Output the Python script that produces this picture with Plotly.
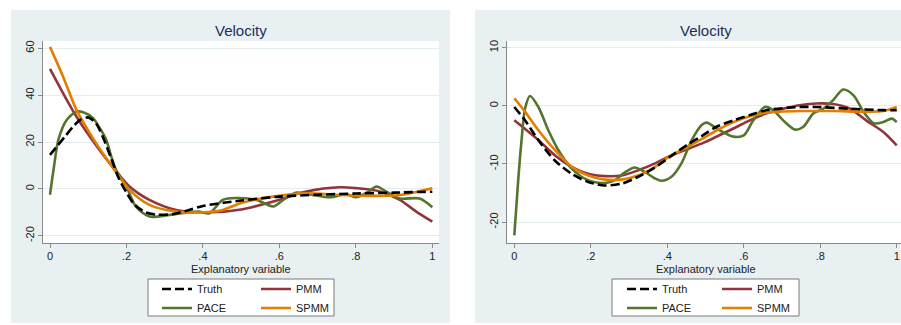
import plotly.graph_objects as go

# ---------------- data ----------------
series_names = ["Truth", "PMM", "PACE", "SPMM"]
panel_titles = ["Velocity", "Velocity"]
x_title = "Explanatory variable"

x_tickvals = [0, 0.2, 0.4, 0.6, 0.8, 1.0]
x_ticktext = ["0", ".2", ".4", ".6", ".8", "1"]
left_y_tickvals = [-20, 0, 20, 40, 60]
left_y_ticktext = ["-20", "0", "20", "40", "60"]
right_y_tickvals = [-20, -10, 0, 10]
right_y_ticktext = ["-20", "-10", "0", "10"]

# Left panel
L_truth_x = [0, 0.02, 0.04, 0.06, 0.08, 0.1, 0.12, 0.14, 0.16, 0.18, 0.2, 0.22, 0.25, 0.28, 0.32, 0.36, 0.4, 0.5, 0.6, 0.7, 0.8, 0.9, 1.0]
L_truth_y = [14.5, 18.5, 22.5, 26.5, 29.5, 30.5, 28, 21.5, 13, 4.5, -1.5, -6.5, -10, -11, -10.8, -9.2, -7.3, -5, -3.3, -2.5, -2.0, -1.6, -1.2]

L_pmm_x = [0, 0.034, 0.069, 0.104, 0.156, 0.208, 0.26, 0.33, 0.42, 0.5, 0.584, 0.671, 0.758, 0.8, 0.863, 0.915, 0.958, 1.0]
L_pmm_y = [51.2, 40.9, 30.9, 22.4, 11, 1, -4.7, -9, -10, -8.8, -5.4, -1.1, 0.7, 0.3, -1.1, -4.7, -9.7, -14]

L_pace_x = [0, 0.01, 0.022, 0.044, 0.07, 0.09, 0.112, 0.13, 0.147, 0.16, 0.173, 0.2, 0.225, 0.26, 0.313, 0.365, 0.39, 0.417, 0.452, 0.487, 0.54, 0.584, 0.61, 0.645, 0.688, 0.732, 0.776, 0.8, 0.83, 0.854, 0.88, 0.915, 0.967, 1.0]
L_pace_y = [-2.5, 9, 21, 29.5, 33, 32.5, 30.3, 26, 21, 14, 8, 1, -7.6, -11.8, -11.1, -10, -9.7, -10.4, -4.7, -3.9, -4.7, -7.5, -4.7, -1.6, -2.6, -3.6, -2.3, -3.6, -1.5, 1, -1.2, -4.1, -4.1, -7.8]

L_spmm_x = [0, 0.034, 0.069, 0.104, 0.156, 0.208, 0.26, 0.33, 0.383, 0.452, 0.5, 0.584, 0.671, 0.758, 0.845, 0.915, 1.0]
L_spmm_y = [60.6, 48, 33.8, 23.8, 11, -0.4, -6.8, -9.7, -10.1, -9, -6, -3.3, -1.9, -2.6, -3, -2.6, 0.3]

# Right panel
R_truth_x = [0, 0.028, 0.063, 0.106, 0.15, 0.193, 0.237, 0.28, 0.324, 0.368, 0.411, 0.455, 0.49, 0.529, 0.573, 0.616, 0.66, 0.746, 0.79, 0.878, 0.965, 1.0]
R_truth_y = [-0.2, -2.5, -5.9, -9.4, -11.7, -13.1, -13.7, -13.4, -12.2, -10.6, -8.6, -6.6, -5.2, -3.6, -2.5, -1.6, -0.75, -0.2, -0.2, -0.5, -0.75, -0.75]

R_pmm_x = [0, 0.063, 0.106, 0.15, 0.193, 0.237, 0.28, 0.324, 0.368, 0.411, 0.455, 0.5, 0.573, 0.616, 0.66, 0.703, 0.746, 0.79, 0.834, 0.878, 0.92, 0.965, 1.0]
R_pmm_y = [-2.5, -5.9, -8.5, -10.5, -11.7, -12.1, -12, -11.1, -9.9, -8.5, -7.4, -6.2, -3.9, -2.5, -1.3, -0.5, 0.1, 0.4, 0.3, -0.5, -2.5, -4.5, -6.8]

R_pace_x = [0, 0.01, 0.019, 0.028, 0.041, 0.063, 0.089, 0.115, 0.15, 0.193, 0.237, 0.263, 0.29, 0.315, 0.342, 0.368, 0.385, 0.411, 0.437, 0.464, 0.49, 0.503, 0.537, 0.573, 0.6, 0.625, 0.655, 0.677, 0.703, 0.734, 0.756, 0.782, 0.808, 0.834, 0.86, 0.887, 0.913, 0.94, 0.965, 0.987, 1.0]
R_pace_y = [-22.3, -13, -5.9, -0.5, 1.7, -0.2, -4.2, -7.6, -10.8, -12.8, -13.3, -12.8, -11.4, -10.6, -11.4, -12.5, -12.9, -12.2, -9.9, -5.9, -3.3, -2.9, -4.2, -5.3, -5.1, -2.5, -0.2, -0.75, -2.5, -4.1, -3.6, -1.3, -0.5, 1, 2.8, 1.8, -1, -3, -2.8, -2.2, -2.8]

R_spmm_x = [0, 0.028, 0.063, 0.106, 0.15, 0.193, 0.237, 0.28, 0.324, 0.368, 0.411, 0.455, 0.485, 0.53, 0.573, 0.616, 0.66, 0.746, 0.834, 0.92, 0.965, 1.0]
R_spmm_y = [1.3, -1, -4.2, -7.6, -10.5, -12, -12.7, -12.7, -12, -10.5, -8.5, -7.0, -5.9, -4.2, -2.8, -1.8, -1.2, -0.9, -0.9, -1, -0.9, -0.2]

# ---------------- styling ----------------
FONT = "Liberation Sans, Arial, sans-serif"
C_TRUTH = "#000000"
C_PMM = "#90353B"
C_PACE = "#55752F"
C_SPMM = "#E37E00"
PANEL_BG = "#E9F0F2"
GRID = "#E4EEF0"
AXIS = "#8A8A8A"
TITLE_C = "#1E2D5C"
TEXT_C = "#222222"
LW = 2.6

W, H = 901, 325

def px_x(p):
    return p / W

def px_y(p):
    return (H - p) / H

fig = go.Figure()

def add_panel(xa, ya, legA, legB, data):
    (tx, ty), (px_, py_), (cx, cy), (sx, sy) = data
    common = dict(mode="lines", line_shape="spline", xaxis=xa, yaxis=ya, hoverinfo="skip")
    fig.add_trace(go.Scatter(x=px_, y=py_, name="PMM", legend=legB, legendrank=1,
                             line=dict(color=C_PMM, width=LW, smoothing=0.8), **common))
    fig.add_trace(go.Scatter(x=cx, y=cy, name="PACE", legend=legA, legendrank=2,
                             line=dict(color=C_PACE, width=LW, smoothing=0.8), **common))
    fig.add_trace(go.Scatter(x=sx, y=sy, name="SPMM", legend=legB, legendrank=2,
                             line=dict(color=C_SPMM, width=LW, smoothing=0.8), **common))
    fig.add_trace(go.Scatter(x=tx, y=ty, name="Truth", legend=legA, legendrank=1,
                             line=dict(color=C_TRUTH, width=LW, dash="9px,4px", smoothing=0.8), **common))

add_panel("x", "y", "legend", "legend2",
          [(L_truth_x, L_truth_y), (L_pmm_x, L_pmm_y), (L_pace_x, L_pace_y), (L_spmm_x, L_spmm_y)])
add_panel("x2", "y2", "legend3", "legend4",
          [(R_truth_x, R_truth_y), (R_pmm_x, R_pmm_y), (R_pace_x, R_pace_y), (R_spmm_x, R_spmm_y)])

xaxis_style = dict(
    showline=True, linecolor=AXIS, linewidth=1, ticks="outside", ticklen=4, tickcolor=AXIS,
    showgrid=False, zeroline=False, tickvals=x_tickvals, ticktext=x_ticktext, automargin=False,
    ticklabelstandoff=-1,
    tickfont=dict(family=FONT, size=11, color=TEXT_C),
)
yaxis_style = dict(
    showline=True, linecolor=AXIS, linewidth=1, ticks="outside", ticklen=4, tickcolor=AXIS,
    showgrid=True, gridcolor=GRID, gridwidth=1, zeroline=False, tickangle=-90, automargin=False,
    tickfont=dict(family=FONT, size=11, color=TEXT_C),
)

leg_style = dict(bgcolor="rgba(0,0,0,0)", borderwidth=0, orientation="v",
                 xanchor="left", yanchor="top", font=dict(family=FONT, size=11, color=TEXT_C),
                 itemclick=False, itemdoubleclick=False)

L_DOM = [px_x(43), px_x(439)]
R_DOM = [px_x(507.3), 1.0]
Y_DOM = [px_y(243), px_y(41)]

fig.update_layout(
    width=W, height=H,
    margin=dict(l=0, r=0, t=0, b=0, autoexpand=False),
    paper_bgcolor="white", plot_bgcolor="white",
    font=dict(family=FONT),
    xaxis=dict(domain=L_DOM, range=[-0.0183, 1.0175], anchor="y", **xaxis_style),
    yaxis=dict(domain=Y_DOM, range=[-23.1, 63.1], anchor="x",
               tickvals=left_y_tickvals, ticktext=left_y_ticktext, **yaxis_style),
    xaxis2=dict(domain=R_DOM, range=[-0.0183, 1.0112], anchor="y2", **xaxis_style),
    yaxis2=dict(domain=Y_DOM, range=[-23.6, 11.15], anchor="x2",
                tickvals=right_y_tickvals, ticktext=right_y_ticktext, **yaxis_style),
    legend=dict(x=px_x(157), y=px_y(274.5), **leg_style),
    legend2=dict(x=px_x(256), y=px_y(274.5), **leg_style),
    legend3=dict(x=px_x(622), y=px_y(274.5), **leg_style),
    legend4=dict(x=px_x(717), y=px_y(274.5), **leg_style),
    showlegend=True,
)

# panel backgrounds, white plot regions and legend boxes
shapes = [
    dict(type="rect", xref="paper", yref="paper", x0=px_x(11), x1=px_x(450), y0=px_y(323), y1=px_y(10),
         fillcolor=PANEL_BG, line=dict(width=0), layer="below"),
    dict(type="rect", xref="paper", yref="paper", x0=px_x(475), x1=1.0, y0=px_y(323), y1=px_y(10),
         fillcolor=PANEL_BG, line=dict(width=0), layer="below"),
    dict(type="rect", xref="paper", yref="paper", x0=L_DOM[0], x1=L_DOM[1], y0=Y_DOM[0], y1=Y_DOM[1],
         fillcolor="white", line=dict(width=0), layer="below"),
    dict(type="rect", xref="paper", yref="paper", x0=R_DOM[0], x1=R_DOM[1], y0=Y_DOM[0], y1=Y_DOM[1],
         fillcolor="white", line=dict(width=0), layer="below"),
    dict(type="rect", xref="paper", yref="paper", x0=px_x(148), x1=px_x(334), y0=px_y(316), y1=px_y(279),
         fillcolor="white", line=dict(color="#7A7A7A", width=1), layer="above"),
    dict(type="rect", xref="paper", yref="paper", x0=px_x(612), x1=px_x(799), y0=px_y(316), y1=px_y(279),
         fillcolor="white", line=dict(color="#7A7A7A", width=1), layer="above"),
]
fig.update_layout(shapes=shapes)

annotations = [
    dict(text=panel_titles[0], x=px_x(241), y=px_y(30), xref="paper", yref="paper",
         showarrow=False, xanchor="center", yanchor="middle",
         font=dict(family=FONT, size=15, color=TITLE_C)),
    dict(text=panel_titles[1], x=px_x(705.5), y=px_y(30), xref="paper", yref="paper",
         showarrow=False, xanchor="center", yanchor="middle",
         font=dict(family=FONT, size=15, color=TITLE_C)),
    dict(text=x_title, x=px_x(241), y=px_y(268.5), xref="paper", yref="paper",
         showarrow=False, xanchor="center", yanchor="middle", borderpad=0,
         font=dict(family=FONT, size=11, color=TEXT_C)),
    dict(text=x_title, x=px_x(705.5), y=px_y(268.5), xref="paper", yref="paper",
         showarrow=False, xanchor="center", yanchor="middle", borderpad=0,
         font=dict(family=FONT, size=11, color=TEXT_C)),
]
fig.update_layout(annotations=annotations)

fig.write_html("out.html", config={"displayModeBar": False},
               post_script="document.body.style.margin='0';")
